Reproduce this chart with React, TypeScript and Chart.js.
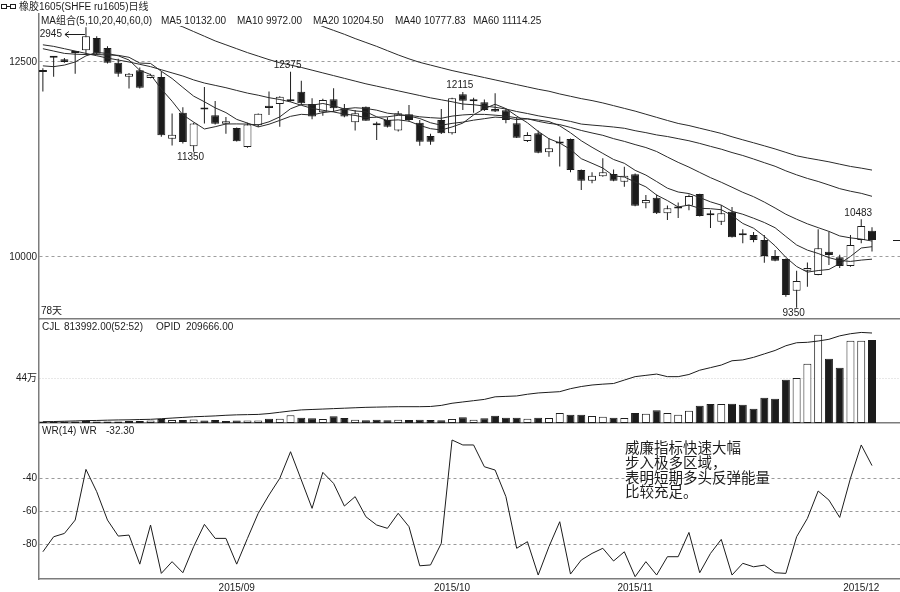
import React, { useEffect, useRef } from "react";
import { Chart, registerables } from "chart.js";

Chart.register(...registerables);

// ---------------- data ----------------
const TITLE = "橡胶1605(SHFE ru1605)日线";

const OPEN = [
  12370, 12555, 12535, 12615, 12650, 12808, 12680, 12490, 12310, 12394,
  12295, 12308, 11517, 11850, 11420, 11900, 11817, 11709, 11654, 11410,
  11688, 11940, 11962, 11995, 12119, 11962, 11855, 12022, 11906, 11727,
  11927, 11695, 11756, 11620, 11829, 11722, 11551, 11756, 11586, 12086,
  11995, 11983, 11897, 11880, 11714, 11487, 11586, 11342, 11455, 11513,
  11115, 10978, 11035, 11064, 10965, 11060, 10689, 10760, 10560, 10620,
  10658, 10808, 10545, 10453, 10581, 10285, 10282, 10218, 10013, 9974,
  9568, 9825, 9770, 10068, 9996, 9885, 10218, 10337,
];
const HIGH = [
  12420, 12570, 12550, 12630, 12945, 12830, 12700, 12540, 12360, 12430,
  12350, 12380, 11840, 11920, 11720, 12180, 12000, 11795, 11660, 11720,
  11840, 12120, 12060, 12375, 12260, 12035, 12030, 12163, 11960, 11885,
  11930, 11735, 11790, 11870, 11950, 11756, 11580, 11897, 12040, 12115,
  12040, 12020, 12100, 11900, 11790, 11600, 11620, 11522, 11545, 11520,
  11120, 11086, 11265, 11120, 11158, 11070, 10795, 10800, 10660, 10700,
  10800, 10810, 10600, 10667, 10640, 10355, 10320, 10282, 10090, 9980,
  9824, 9930, 10355, 10325, 10030, 10282, 10483, 10380,
];
const LOW = [
  12120, 12310, 12490, 12350, 12590, 12590, 12480, 12310, 12160, 12160,
  12290, 11540, 11430, 11455, 11350, 11710, 11700, 11580, 11480, 11400,
  11665, 11820, 11670, 11990, 11950, 11765, 11810, 11860, 11790, 11620,
  11745, 11500, 11660, 11610, 11735, 11425, 11440, 11577, 11570, 11885,
  11850, 11870, 11860, 11715, 11525, 11475, 11330, 11286, 11160, 11085,
  10860, 10945, 11030, 10970, 10900, 10650, 10625, 10550, 10475, 10500,
  10600, 10520, 10370, 10410, 10250, 10175, 10190, 9927, 9945, 9490,
  9350, 9620, 9765, 9897, 9860, 9876, 10175, 10070,
];
const CLOSE = [
  12380, 12565, 12500, 12625, 12830, 12606, 12490, 12350, 12350, 12170,
  12337, 11560, 11568, 11475, 11710, 11890, 11709, 11740, 11483, 11697,
  11837, 11910, 12055, 12005, 11970, 11800, 12013, 11906, 11800, 11842,
  11748, 11690, 11670, 11842, 11756, 11478, 11478, 11586, 12035, 12004,
  12005, 11885, 11865, 11756, 11530, 11564, 11337, 11394, 11478, 11115,
  10978, 11042, 11086, 10978, 11042, 10658, 10731, 10560, 10625, 10630,
  10782, 10525, 10535, 10560, 10252, 10280, 10218, 10013, 9953, 9512,
  9692, 9860, 10112, 10026, 9885, 10154, 10397, 10218,
];

const MA5 = [
  12450, 12440, 12460, 12500, 12578, 12623, 12609, 12579, 12525, 12393,
  12339, 12153, 11997, 11822, 11730, 11641, 11670, 11705, 11706, 11704,
  11693, 11733, 11796, 11900, 11954, 11947, 11968, 11938, 11898, 11872,
  11862, 11797, 11750, 11758, 11741, 11687, 11645, 11628, 11667, 11716,
  11821, 11902, 11958, 11902, 11807, 11720, 11610, 11516, 11461, 11378,
  11260, 11201, 11140, 11040, 11025, 10961, 10899, 10794, 10723, 10641,
  10666, 10624, 10619, 10606, 10531, 10430, 10369, 10265, 10143, 9995,
  9878, 9806, 9826, 9840, 9915, 10007, 10115, 10132,
];
const MA10 = [
  12670, 12640, 12610, 12600, 12595, 12595, 12590, 12585, 12560, 12486,
  12481, 12381, 12288, 12174, 12062, 11990, 11912, 11851, 11764, 11717,
  11667, 11702, 11751, 11803, 11829, 11820, 11851, 11867, 11899, 11913,
  11904, 11882, 11844, 11828, 11807, 11775, 11721, 11689, 11713, 11729,
  11754, 11773, 11793, 11784, 11762, 11770, 11756, 11737, 11681, 11592,
  11490, 11406, 11328, 11250, 11201, 11111, 11050, 10967, 10882, 10833,
  10813, 10762, 10707, 10665, 10586, 10548, 10497, 10442, 10375, 10263,
  10154, 10088, 10045, 9992, 9955, 9943, 9960, 9972,
];
const MA20 = [
  12720, 12700, 12670, 12640, 12610, 12580, 12550, 12525, 12500, 12470,
  12440, 12400, 12360, 12320, 12270, 12230, 12200, 12170, 12135, 12101,
  12074, 12042, 12019, 11988, 11945, 11905, 11881, 11859, 11832, 11815,
  11786, 11792, 11797, 11816, 11818, 11797, 11786, 11778, 11806, 11821,
  11829, 11828, 11818, 11806, 11784, 11772, 11739, 11713, 11697, 11661,
  11622, 11590, 11560, 11517, 11482, 11441, 11403, 11352, 11281, 11213,
  11152, 11084, 11017, 10958, 10894, 10829, 10773, 10704, 10628, 10548,
  10484, 10425, 10376, 10328, 10270, 10245, 10229, 10204.5,
];
const MA40 = [
  null, null, null, null, null, null, null, null, null, 13160,
  13100, 13050, 13000, 12950, 12890, 12830, 12770, 12720, 12670, 12620,
  12575, 12530, 12490, 12460, 12430, 12395, 12360, 12325, 12290, 12255,
  12220, 12190, 12160, 12130, 12100, 12070, 12040, 12015, 11990, 11961,
  11952, 11935, 11919, 11897, 11865, 11839, 11810, 11786, 11764, 11738,
  11704, 11691, 11679, 11666, 11650, 11619, 11594, 11565, 11544, 11517,
  11490, 11456, 11418, 11382, 11339, 11301, 11256, 11209, 11163, 11104,
  11053, 11007, 10968, 10923, 10876, 10843, 10816, 10777.83,
];
const MA60 = [
  null, null, null, null, null, null, null, null, null, null,
  null, null, null, null, null, null, null, null, null, null,
  null, null, 13170, 13115, 13060, 13010, 12955, 12905, 12855, 12800,
  12750, 12700, 12645, 12590, 12540, 12495, 12460, 12425, 12390, 12360,
  12330, 12300, 12270, 12240, 12210, 12180, 12150, 12125, 12090, 12060,
  12030, 12005, 11975, 11940, 11905, 11870, 11830, 11790, 11750, 11712,
  11685, 11651, 11618, 11584, 11541, 11502, 11464, 11425, 11385, 11341,
  11297, 11269, 11245, 11220, 11190, 11161, 11139, 11114.25,
];

const VOLUME = [
  15000, 10000, 15000, 15000, 20000, 15000, 15000, 15000, 20000, 20000,
  25000, 40000, 30000, 30000, 35000, 25000, 30000, 20000, 25000, 25000,
  25000, 42000, 42000, 75000, 52000, 46000, 40000, 65000, 49000, 33000,
  27000, 33000, 27000, 33000, 30000, 33000, 30000, 27000, 40000, 56000,
  33000, 46000, 72000, 52000, 52000, 42000, 52000, 49000, 98000, 82000,
  82000, 69000, 62000, 52000, 49000, 98000, 91000, 124000, 98000, 82000,
  121000, 170000, 186000, 186000, 189000, 180000, 140000, 248000, 238000, 425000,
  441000, 581000, 866000, 630000, 542000, 807000, 807000, 813992,
];
const OPEN_INTEREST = [
  3000, 3400, 4100, 4800, 5600, 5900, 6600, 7100, 7400, 8100,
  8600, 10000, 11500, 13000, 14500, 15500, 16500, 18000, 19000, 19500,
  20000, 22000, 25000, 28000, 30500, 31500, 32500, 33500, 34500, 35500,
  36500, 37000, 37500, 38000, 38000, 38000, 38500, 41000, 46000, 49000,
  52000, 55000, 61000, 62000, 63000, 67000, 70000, 71500, 73000, 80000,
  85000, 88500, 90500, 92000, 100000, 108000, 111000, 114000, 108000, 108000,
  113000, 123000, 129000, 135000, 145000, 147000, 153000, 161000, 169000, 180000,
  187000, 188000, 191000, 195000, 203000, 208000, 211000, 209666,
];
const WR14 = [
  -84.5, -75.4, -73.4, -65.3, -34.6, -48.1, -65.3, -75.0, -74.4, -92.0,
  -68.3, -97.6, -90.5, -97.2, -81.4, -67.9, -76.4, -76.4, -92.0, -76.4,
  -61.2, -50.1, -40.0, -23.9, -41.0, -58.2, -36.4, -43.1, -56.8, -51.1,
  -63.3, -68.3, -70.3, -61.2, -69.3, -93.0, -92.5, -79.4, -16.8, -19.8,
  -19.8, -33.0, -35.0, -51.1, -82.4, -78.4, -98.6, -81.4, -66.3, -98.0,
  -89.5, -85.5, -82.4, -90.1, -84.5, -99.6, -90.5, -98.6, -87.5, -87.5,
  -72.8, -97.2, -85.5, -77.0, -98.6, -91.5, -93.6, -92.6, -97.2, -97.6,
  -75.4, -64.3, -47.7, -53.2, -63.7, -40.0, -19.8, -32.3,
];

const PRICE_TICKS = [10000, 12500];
const VOLUME_TICKS = [440000];
const WR_TICKS = [-80, -60, -40];
const MONTH_POSITIONS = [18, 38, 55, 76];
const MONTH_LABELS = ["2015/09", "2015/10", "2015/11", "2015/12"];
const NOTE_LINES = ["威廉指标快速大幅", "步入极多区域，", "表明短期多头反弹能量", "比较充足。"];
// extreme-price annotations: candle index, which price, where the text goes
const PRICE_MARKS = [
  { index: 4, at: "high", place: "left" },
  { index: 23, at: "high", place: "above" },
  { index: 39, at: "high", place: "above" },
  { index: 14, at: "low", place: "below" },
  { index: 76, at: "high", place: "above" },
  { index: 70, at: "low", place: "below" },
];

// ---------------- layout / style ----------------
const W = 900;
const H = 592;
const AXIS_W = 39;
const MAIN_TOP = 14;
const MAIN_BOTTOM = 319;
const VOL_BOTTOM = 423;
const WR_BOTTOM = 579;
const X_AXIS_H = 13;
const X_MIN = -0.36;
const X_MAX = 79.6;
const PRICE_MIN = 9205;
const PRICE_MAX = 13115;
const VOL_MAX = 1020000;
const OI_MAX = 242300;
const WR_MIN = -101;
const WR_MAX = -6.5;

const FONT = '"Liberation Sans", "Noto Sans CJK SC", sans-serif';
const CJK_FONT = '"Noto Sans CJK SC", sans-serif';
const INK = "#1c1c1c";
const FRAME = "#7c7c7c";

const UP = CLOSE.map((c, i) => c >= OPEN[i]);
const FILLS = UP.map((u) => (u ? "#ffffff" : INK));
const xy = (arr: (number | null)[]) => arr.map((v, i) => ({ x: i, y: v }));
const pairs = (a: number[], b: number[]) => a.map((v, i) => ({ x: i, y: [v, b[i]] }));
const last = (a: any[]) => a[a.length - 1];

function text(ctx: CanvasRenderingContext2D, s: string, x: number, y: number, size = 10, align: CanvasTextAlign = "left", family = FONT) {
  ctx.font = `${size}px ${family}`;
  ctx.textAlign = align;
  ctx.textBaseline = "middle";
  ctx.fillStyle = INK;
  ctx.fillText(s, x, y);
}

function xAxis(labels: boolean): any {
  return {
    type: "linear",
    min: X_MIN,
    max: X_MAX,
    bounds: "data",
    grid: { display: false, drawTicks: false },
    border: { display: true, color: FRAME, width: 1.5 },
    ticks: labels
      ? {
          display: true,
          autoSkip: false,
          maxRotation: 0,
          padding: 3,
          color: INK,
          font: { family: FONT, size: 10 },
          callback: (_v: number, i: number) => MONTH_LABELS[i],
        }
      : { display: false },
    afterBuildTicks: (axis: any) => {
      axis.ticks = labels ? MONTH_POSITIONS.map((v) => ({ value: v })) : [];
    },
    afterFit: (axis: any) => {
      axis.height = labels ? X_AXIS_H : 0;
    },
  };
}

function yAxis(min: number, max: number, ticks: number[], fmt: (v: number) => string, gridColor: string, dash: number[]): any {
  return {
    type: "linear",
    position: "left",
    min,
    max,
    bounds: "data",
    afterBuildTicks: (axis: any) => {
      axis.ticks = ticks.map((v) => ({ value: v }));
    },
    afterFit: (axis: any) => {
      axis.width = AXIS_W;
    },
    ticks: { autoSkip: false, padding: 2, color: INK, font: { family: FONT, size: 10 }, callback: (v: number) => fmt(v) },
    grid: { color: gridColor, lineWidth: 1, drawTicks: false },
    border: { display: true, color: FRAME, width: 1.5, dash },
  };
}

const baseOptions = (top: number, bottom: number) => ({
  responsive: false,
  animation: false,
  devicePixelRatio: 1,
  events: [],
  layout: { padding: { left: 0, right: 0, top, bottom }, autoPadding: false },
  plugins: { legend: { display: false }, tooltip: { enabled: false }, title: { display: false } },
});

const maLine = (label: string, data: (number | null)[]) => ({
  type: "line",
  label,
  data: xy(data),
  borderColor: "#2a2a2a",
  borderWidth: 1,
  pointRadius: 0,
  tension: 0,
  order: 0,
});

// ---------------- overlays ----------------
const mainOverlay = {
  id: "mainOverlay",
  afterDraw(chart: any) {
    const { ctx, chartArea: a } = chart;
    const xs = chart.scales.x;
    const ys = chart.scales.y;
    ctx.save();
    // title row
    ctx.strokeStyle = INK;
    ctx.lineWidth = 1;
    ctx.strokeRect(1.5, 4.5, 5, 4);
    ctx.strokeRect(10.5, 4.5, 5, 4);
    ctx.beginPath();
    ctx.moveTo(6.5, 6.5);
    ctx.lineTo(10.5, 6.5);
    ctx.stroke();
    text(ctx, TITLE, 19, 7);
    // MA header (drawn on a white band, as in the source)
    ctx.fillStyle = "#fff";
    ctx.fillRect(a.left + 1, MAIN_TOP, 505, 12);
    const header = [
      "MA组合(5,10,20,40,60,0)",
      `MA5 ${last(MA5).toFixed(2)}`,
      `MA10 ${last(MA10).toFixed(2)}`,
      `MA20 ${last(MA20).toFixed(2)}`,
      `MA40 ${last(MA40).toFixed(2)}`,
      `MA60 ${last(MA60).toFixed(2)}`,
    ];
    const hx = [41, 161, 237, 313, 395, 473];
    header.forEach((s, i) => text(ctx, s, hx[i], 21));
    text(ctx, `${CLOSE.length}天`, 41, 311);

    // extreme price marks
    ctx.save();
    ctx.beginPath();
    ctx.rect(a.left + 1, a.top, a.right - a.left, a.bottom - a.top);
    ctx.clip();
    ctx.strokeStyle = INK;
    ctx.lineWidth = 1;
    for (const m of PRICE_MARKS) {
      const v = m.at === "high" ? HIGH[m.index] : LOW[m.index];
      const x = xs.getPixelForValue(m.index);
      const y = ys.getPixelForValue(v);
      if (m.place === "left") {
        const ty = Math.round(y + 6.5) + 0.5;
        text(ctx, String(v), x - 24, ty, 10, "right");
        ctx.beginPath();
        ctx.moveTo(x - 21, ty);
        ctx.lineTo(x - 1, ty);
        ctx.moveTo(x - 17, ty - 3);
        ctx.lineTo(x - 21, ty);
        ctx.lineTo(x - 17, ty + 3);
        ctx.stroke();
      } else if (m.place === "above") {
        text(ctx, String(v), x - 3, y - 6.5, 10, "center");
      } else {
        text(ctx, String(v), x - 3, y + 6, 10, "center");
      }
    }
    ctx.restore();

    // last price marker at the right edge
    const yl = Math.round(ys.getPixelForValue(last(CLOSE))) + 0.5;
    ctx.strokeStyle = INK;
    ctx.beginPath();
    ctx.moveTo(a.right - 7, yl);
    ctx.lineTo(a.right, yl);
    ctx.stroke();
    ctx.restore();
  },
};

const volOverlay = {
  id: "volOverlay",
  afterDraw(chart: any) {
    const { ctx } = chart;
    ctx.save();
    const y = 327.5;
    text(ctx, "CJL", 42, y);
    text(ctx, `${last(VOLUME).toFixed(2)}(52:52)`, 64, y);
    text(ctx, "OPID", 156, y);
    text(ctx, last(OPEN_INTEREST).toFixed(2), 186, y);
    ctx.restore();
  },
};

const wrOverlay = {
  id: "wrOverlay",
  afterDraw(chart: any) {
    const { ctx } = chart;
    ctx.save();
    const y = 431.5;
    text(ctx, "WR(14)", 42, y);
    text(ctx, "WR", 80, y);
    text(ctx, last(WR14).toFixed(2), 106, y);
    const ly = [447.5, 462, 477, 491.5];
    NOTE_LINES.forEach((s, i) => text(ctx, s, 625, ly[i], 14.5, "left", CJK_FONT));
    ctx.restore();
  },
};

// ---------------- configs ----------------
function mainConfig(): any {
  return {
    type: "bar",
    data: {
      datasets: [
        maLine("MA5", MA5),
        maLine("MA10", MA10),
        maLine("MA20", MA20),
        maLine("MA40", MA40),
        maLine("MA60", MA60),
        {
          type: "bar",
          label: "body",
          data: pairs(OPEN, CLOSE),
          backgroundColor: FILLS,
          borderColor: INK,
          borderWidth: 1,
          borderSkipped: false,
          barThickness: 8,
          grouped: false,
          minBarLength: 2,
          inflateAmount: 0,
          order: 1,
        },
        {
          type: "bar",
          label: "wick",
          data: pairs(LOW, HIGH),
          backgroundColor: INK,
          borderWidth: 0,
          barThickness: 1,
          grouped: false,
          inflateAmount: 0,
          order: 2,
        },
      ],
    },
    options: {
      ...baseOptions(MAIN_TOP, H - MAIN_BOTTOM),
      scales: {
        x: xAxis(false),
        y: yAxis(PRICE_MIN, PRICE_MAX, PRICE_TICKS, (v) => String(v), "#9e9e9e", [3, 3]),
      },
    },
    plugins: [mainOverlay],
  };
}

function volConfig(): any {
  return {
    type: "bar",
    data: {
      datasets: [
        {
          type: "line",
          label: "OPID",
          data: xy(OPEN_INTEREST),
          yAxisID: "yOI",
          borderColor: INK,
          borderWidth: 1,
          pointRadius: 0,
          tension: 0,
          order: 0,
        },
        {
          type: "bar",
          label: "VOL",
          data: xy(VOLUME),
          backgroundColor: FILLS,
          borderColor: INK,
          borderWidth: 1,
          borderSkipped: false,
          barThickness: 8,
          grouped: false,
          inflateAmount: 0,
          order: 1,
        },
      ],
    },
    options: {
      ...baseOptions(MAIN_BOTTOM, H - VOL_BOTTOM),
      scales: {
        x: xAxis(false),
        y: yAxis(0, VOL_MAX, VOLUME_TICKS, (v) => `${v / 10000}万`, "#d0d0d0", [1, 2]),
        yOI: {
          type: "linear",
          display: false,
          min: 0,
          max: OI_MAX,
          afterFit: (axis: any) => {
            axis.width = 0;
          },
        },
      },
    },
    plugins: [volOverlay],
  };
}

function wrConfig(): any {
  return {
    type: "line",
    data: {
      datasets: [
        {
          label: "WR",
          data: xy(WR14),
          borderColor: INK,
          borderWidth: 1,
          pointRadius: 0,
          tension: 0,
        },
      ],
    },
    options: {
      ...baseOptions(VOL_BOTTOM, H - WR_BOTTOM - X_AXIS_H),
      scales: {
        x: xAxis(true),
        y: yAxis(WR_MIN, WR_MAX, WR_TICKS, (v) => String(v), "#9a9a9a", [3, 3]),
      },
    },
    plugins: [wrOverlay],
  };
}

export default function App() {
  const mainRef = useRef<HTMLCanvasElement>(null);
  const volRef = useRef<HTMLCanvasElement>(null);
  const wrRef = useRef<HTMLCanvasElement>(null);

  useEffect(() => {
    const charts = [
      new Chart(mainRef.current as HTMLCanvasElement, mainConfig()),
      new Chart(volRef.current as HTMLCanvasElement, volConfig()),
      new Chart(wrRef.current as HTMLCanvasElement, wrConfig()),
    ];
    return () => charts.forEach((c) => c.destroy());
  }, []);

  const cv: React.CSSProperties = { position: "absolute", left: 0, top: 0, width: W, height: H };
  return (
    <div style={{ position: "fixed", left: 0, top: 0, width: W, height: H, background: "#fff", overflow: "hidden" }}>
      <canvas ref={mainRef} width={W} height={H} style={cv} />
      <canvas ref={volRef} width={W} height={H} style={cv} />
      <canvas ref={wrRef} width={W} height={H} style={cv} />
    </div>
  );
}
